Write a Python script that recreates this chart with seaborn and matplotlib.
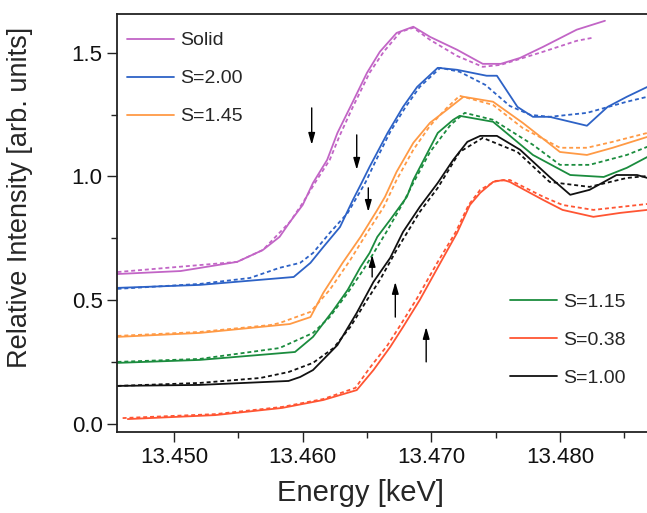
import numpy as np
import pandas as pd
import matplotlib
matplotlib.use("Agg")
import matplotlib.pyplot as plt
import seaborn as sns

# ---------------- data (energy in keV, relative intensity) ----------------
solid_E = [13.4456, 13.4505, 13.4549, 13.4569, 13.4582, 13.4590, 13.4600, 13.4608, 13.4619, 13.4627, 13.4637,
           13.4650, 13.4660, 13.4673, 13.4686, 13.4699, 13.4720, 13.4740, 13.4754, 13.4769, 13.4787, 13.4813, 13.4835]
solid_I = [0.606, 0.618, 0.655, 0.703, 0.756, 0.816, 0.885, 0.974, 1.067, 1.176, 1.281,
           1.419, 1.504, 1.580, 1.605, 1.564, 1.512, 1.455, 1.455, 1.479, 1.524, 1.593, 1.629]
solid_fit_E = [13.4456, 13.4549, 13.4569, 13.4590, 13.4600, 13.4610, 13.4621, 13.4629, 13.4639, 13.4652,
               13.4663, 13.4676, 13.4686, 13.4699, 13.4720, 13.4740, 13.4754, 13.4787, 13.4813, 13.4825]
solid_fit_I = [0.614, 0.655, 0.703, 0.816, 0.893, 0.978, 1.067, 1.168, 1.281, 1.419,
               1.504, 1.584, 1.601, 1.552, 1.487, 1.443, 1.451, 1.504, 1.548, 1.560]

s200_E = [13.4456, 13.4520, 13.4593, 13.4606, 13.4616, 13.4629, 13.4639, 13.4645, 13.4652, 13.4666, 13.4678, 13.4689,
          13.4705, 13.4720, 13.4743, 13.4751, 13.4767, 13.4779, 13.4792, 13.4821, 13.4837, 13.4852, 13.4868]
s200_I = [0.550, 0.562, 0.594, 0.651, 0.715, 0.796, 0.905, 0.966, 1.039, 1.176, 1.281, 1.362,
          1.439, 1.431, 1.407, 1.407, 1.281, 1.241, 1.241, 1.205, 1.281, 1.322, 1.362]
s200_fit_E = [13.4456, 13.4520, 13.4559, 13.4582, 13.4598, 13.4608, 13.4621, 13.4635, 13.4649, 13.4656, 13.4668,
              13.4680, 13.4691, 13.4707, 13.4722, 13.4742, 13.4761, 13.4777, 13.4792, 13.4821, 13.4852, 13.4868]
s200_fit_I = [0.546, 0.566, 0.590, 0.631, 0.651, 0.691, 0.772, 0.853, 0.978, 1.055, 1.180,
              1.281, 1.362, 1.439, 1.423, 1.370, 1.285, 1.249, 1.241, 1.257, 1.302, 1.322]

s145_E = [13.4456, 13.4520, 13.4590, 13.4606, 13.4616, 13.4631, 13.4645, 13.4658, 13.4664, 13.4673,
          13.4686, 13.4699, 13.4712, 13.4725, 13.4748, 13.4771, 13.4800, 13.4821, 13.4841, 13.4868]
s145_I = [0.352, 0.368, 0.404, 0.432, 0.530, 0.651, 0.756, 0.865, 0.918, 1.019,
          1.136, 1.217, 1.269, 1.322, 1.302, 1.217, 1.099, 1.087, 1.116, 1.160]
s145_fit_E = [13.4456, 13.4520, 13.4575, 13.4582, 13.4606, 13.4621, 13.4637, 13.4650, 13.4663, 13.4673,
              13.4686, 13.4699, 13.4712, 13.4722, 13.4748, 13.4771, 13.4800, 13.4821, 13.4841, 13.4868]
s145_fit_I = [0.356, 0.372, 0.400, 0.408, 0.453, 0.542, 0.663, 0.772, 0.877, 0.986,
              1.108, 1.205, 1.277, 1.326, 1.289, 1.196, 1.116, 1.116, 1.140, 1.176]

s115_E = [13.4456, 13.4520, 13.4594, 13.4608, 13.4624, 13.4635, 13.4645, 13.4652, 13.4658, 13.4668, 13.4681,
          13.4686, 13.4705, 13.4717, 13.4722, 13.4748, 13.4779, 13.4808, 13.4834, 13.4852, 13.4868]
s115_I = [0.247, 0.259, 0.291, 0.352, 0.461, 0.542, 0.635, 0.691, 0.756, 0.825, 0.918,
          0.986, 1.176, 1.229, 1.245, 1.221, 1.087, 1.006, 0.998, 1.035, 1.079]
s115_fit_E = [13.4456, 13.4520, 13.4582, 13.4608, 13.4621, 13.4635, 13.4647, 13.4658, 13.4666, 13.4678,
              13.4686, 13.4699, 13.4715, 13.4726, 13.4748, 13.4779, 13.4800, 13.4823, 13.4852, 13.4868]
s115_fit_I = [0.251, 0.263, 0.307, 0.368, 0.432, 0.530, 0.622, 0.715, 0.784, 0.893,
              0.974, 1.099, 1.209, 1.257, 1.229, 1.128, 1.047, 1.047, 1.087, 1.120]

s100_E = [13.4456, 13.4520, 13.4589, 13.4598, 13.4608, 13.4627, 13.4642, 13.4655, 13.4668, 13.4678, 13.4691, 13.4705,
          13.4717, 13.4728, 13.4738, 13.4751, 13.4769, 13.4792, 13.4808, 13.4823, 13.4844, 13.4860, 13.4868]
s100_I = [0.154, 0.158, 0.174, 0.190, 0.218, 0.319, 0.449, 0.574, 0.671, 0.776, 0.877, 0.974,
          1.067, 1.140, 1.164, 1.164, 1.108, 0.998, 0.926, 0.946, 1.006, 1.006, 0.994]
s100_fit_E = [13.4456, 13.4520, 13.4567, 13.4589, 13.4608, 13.4624, 13.4637, 13.4650, 13.4660, 13.4673,
              13.4691, 13.4705, 13.4722, 13.4740, 13.4767, 13.4792, 13.4823, 13.4852, 13.4868]
s100_fit_I = [0.154, 0.166, 0.186, 0.210, 0.247, 0.307, 0.392, 0.501, 0.582, 0.703,
              0.857, 0.954, 1.099, 1.156, 1.099, 0.978, 0.958, 0.994, 1.002]

s038_E = [13.4464, 13.4532, 13.4584, 13.4616, 13.4642, 13.4655, 13.4668, 13.4678, 13.4691, 13.4707, 13.4720,
          13.4730, 13.4738, 13.4748, 13.4756, 13.4761, 13.4787, 13.4802, 13.4826, 13.4847, 13.4868]
s038_I = [0.020, 0.036, 0.065, 0.097, 0.137, 0.218, 0.311, 0.392, 0.501, 0.651, 0.772,
          0.885, 0.934, 0.978, 0.986, 0.978, 0.905, 0.865, 0.837, 0.853, 0.865]
s038_fit_E = [13.4460, 13.4532, 13.4584, 13.4616, 13.4641, 13.4652, 13.4666, 13.4676, 13.4689, 13.4705,
              13.4719, 13.4729, 13.4738, 13.4750, 13.4761, 13.4787, 13.4802, 13.4826, 13.4847, 13.4868]
s038_fit_I = [0.024, 0.040, 0.069, 0.101, 0.146, 0.226, 0.319, 0.400, 0.509, 0.655,
              0.776, 0.885, 0.946, 0.982, 0.986, 0.918, 0.885, 0.865, 0.877, 0.889]

labels = ["Solid", "S=2.00", "S=1.45", "S=1.15", "S=0.38", "S=1.00"]
colors = ["#c265c6", "#2d62c6", "#ff9a45", "#1b8c3e", "#ff5533", "#111111"]

# arrows: energy, tail intensity, head intensity
arrow_E = [13.4607, 13.4642, 13.4651, 13.4654, 13.4672, 13.4696]
arrow_tail = [1.277, 1.168, 0.954, 0.594, 0.432, 0.251]
arrow_head = [1.128, 1.027, 0.857, 0.683, 0.574, 0.392]

xticks = [13.450, 13.460, 13.470, 13.480]
yticks = [0.0, 0.5, 1.0, 1.5]

# ---------------- plotting ----------------
sns.set_style("ticks")
plt.rcParams["font.family"] = ["Liberation Sans", "DejaVu Sans"]

fig = plt.figure(figsize=(6.47, 5.13), dpi=100)
ax = fig.add_axes([0.181, 0.158, 0.824, 0.815])

series = [
    (solid_E, solid_I, solid_fit_E, solid_fit_I),
    (s200_E, s200_I, s200_fit_E, s200_fit_I),
    (s145_E, s145_I, s145_fit_E, s145_fit_I),
    (s115_E, s115_I, s115_fit_E, s115_fit_I),
    (s038_E, s038_I, s038_fit_E, s038_fit_I),
    (s100_E, s100_I, s100_fit_E, s100_fit_I),
]

handles = []
for (e, i, fe, fi), lab, col in zip(series, labels, colors):
    d = pd.DataFrame({"E": e, "I": i})
    df = pd.DataFrame({"E": fe, "I": fi})
    sns.lineplot(data=df, x="E", y="I", ax=ax, color=col, lw=1.3,
                 linestyle=(0, (2.2, 1.6)), sort=False, estimator=None)
    sns.lineplot(data=d, x="E", y="I", ax=ax, color=col, lw=1.3, sort=False, estimator=None)
    handles.append(ax.lines[-1])

for x, t, h in zip(arrow_E, arrow_tail, arrow_head):
    ax.annotate("", xy=(x, h), xytext=(x, t),
                arrowprops=dict(arrowstyle="-|>,head_length=0.7,head_width=0.2",
                                color="black", lw=1.0, shrinkA=0, shrinkB=0))

ax.set_xlim(13.44557, 13.48702)
ax.set_ylim(-0.032, 1.657)
ax.set_xticks(xticks)
ax.set_xticklabels([f"{v:.3f}" for v in xticks])
ax.set_xticks([13.455, 13.465, 13.475, 13.485], minor=True)
ax.set_yticks(yticks)
ax.set_yticklabels([f"{v:.1f}" for v in yticks])
ax.set_yticks([0.25, 0.75, 1.25], minor=True)
ax.tick_params(axis="both", which="major", direction="out", length=7, width=1.0,
               labelsize=16, color="#222222", labelcolor="#111111")
ax.tick_params(axis="both", which="minor", direction="out", length=4, width=1.0, color="#222222")
for s in ["left", "bottom", "top", "right"]:
    ax.spines[s].set_visible(True)
    ax.spines[s].set_linewidth(1.3)
    ax.spines[s].set_color("#222222")

ax.set_xlabel("Energy [keV]", fontsize=21)
ax.set_ylabel("Relative Intensity [arb. units]", fontsize=19.5)
ax.xaxis.set_label_coords(0.456, -0.112)
ax.yaxis.set_label_coords(-0.157, 0.562)

leg1 = ax.legend(handles[:3], labels[:3], loc="upper left", bbox_to_anchor=(-0.003, 0.985),
                 frameon=False, fontsize=14, handlelength=2.4, labelspacing=1.05,
                 handletextpad=0.3, borderaxespad=0.2)
ax.add_artist(leg1)
ax.legend(handles[3:], labels[3:], loc="lower right", bbox_to_anchor=(0.975, 0.08),
          frameon=False, fontsize=14, handlelength=2.4, labelspacing=1.05,
          handletextpad=0.3, borderaxespad=0.2)

fig.savefig("out.png", dpi=100)
